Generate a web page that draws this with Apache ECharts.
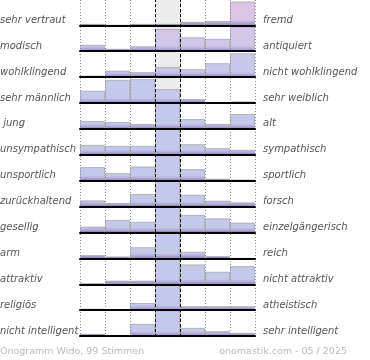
<!DOCTYPE html>
<html><head><meta charset="utf-8">
<script src="https://cdn.jsdelivr.net/npm/echarts@6/dist/echarts.min.js"></script>
<style>html,body{margin:0;padding:0;background:#fff}#c{width:370px;height:360px}</style>
</head><body><div id="c"></div>
<script>
// ---- data ----
const leftLabels = ['sehr vertraut','modisch','wohlklingend','sehr männlich',' jung','unsympathisch','unsportlich','zurückhaltend','gesellig','arm','attraktiv','religiös','nicht intelligent'];
const rightLabels = ['fremd','antiquiert','nicht wohlklingend','sehr weiblich','alt','sympathisch','sportlich','forsch','einzelgängerisch','reich','nicht attraktiv','atheistisch','sehr intelligent'];
const steps = ['1','2','3','4','5','6','7'];
const row1  = [1.5, 0, 1.5, 1.5, 3.5, 4.5, 24.5];
const row2  = [6.5, 2.5, 5, 22.5, 14, 12.5, 25];
const row3  = [1.5, 6.5, 5, 10, 8, 14, 24];
const row4  = [12.3, 23.3, 24, 14, 4, 0.5, 1.6];
const row5  = [8, 7, 5, 26, 10, 5, 15];
const row6  = [10, 9, 9, 26, 10.7, 6.7, 5];
const row7  = [13.7, 7.7, 14.3, 26, 11.7, 2, 1];
const row8  = [6.3, 3.7, 12.7, 26, 12, 6, 4.3];
const row9  = [6, 12.7, 10.7, 26, 17.7, 14.3, 10];
const row10 = [3.3, 2, 11.3, 26, 6.7, 2.3, 0];
const row11 = [1, 3.7, 3.7, 26, 20, 12.7, 18.3];
const row12 = [1.7, 1, 7.3, 26, 4, 4, 4];
const row13 = [2.3, 0.5, 12.3, 26, 8.3, 5, 3.3];
const rows = [row1,row2,row3,row4,row5,row6,row7,row8,row9,row10,row11,row12,row13];
const footerLeft = 'Onogramm Wido, 99 Stimmen';
const footerRight = 'onomastik.com - 05 / 2025';

// ---- layout ----
const ROW = 25.9, BASE0 = 25.3, LEFT = 80, WIDTH = 175, YMAX = 26;
function hex(c){return [parseInt(c.slice(1,3),16),parseInt(c.slice(3,5),16),parseInt(c.slice(5,7),16)];}
function mix(a,b,t){const A=hex(a),B=hex(b);return 'rgb('+A.map((v,i)=>Math.round(v+(B[i]-v)*t)).join(',')+')';}
function colorAt(y){const t=Math.max(0,Math.min(1,y/75));return mix('#dfc4e6','#c4c9ea',t);}

const grids=[], xAxes=[], yAxes=[], series=[], graphics=[];
rows.forEach((vals,i)=>{
  const base = BASE0 + ROW*i, top = base - ROW;
  grids.push({left:LEFT, width:WIDTH, top:top, height:ROW});
  xAxes.push({type:'category', gridIndex:i, data:steps, z:4,
    axisLine:{show:true, lineStyle:{color:'#000', width:2}},
    axisTick:{show:false}, axisLabel:{show:false}, splitLine:{show:false}});
  yAxes.push({type:'value', gridIndex:i, min:0, max:YMAX, show:false, splitLine:{show:false}});
  series.push({type:'bar', xAxisIndex:i, yAxisIndex:i, data:vals, barCategoryGap:'0%', silent:true, z:2,
    itemStyle:{
      color:{type:'linear', global:true, x:0, y:top, x2:0, y2:base, colorStops:[
        {offset:0, color:colorAt(top)},
        {offset:0.8, color:colorAt(base-5)},
        {offset:0.9, color:'#b3acda'},
        {offset:1, color:'#9080bd'}]},
      borderColor:'rgba(125,125,125,0.45)', borderWidth:1}});
  graphics.push({type:'text', x:0, y:base-5, silent:true,
    style:{text:leftLabels[i], font:'italic 10px "DejaVu Sans"', fill:'#555', verticalAlign:'middle', align:'left'}});
  graphics.push({type:'text', x:263, y:base-5, silent:true,
    style:{text:rightLabels[i], font:'italic 10px "DejaVu Sans"', fill:'#555', verticalAlign:'middle', align:'left'}});
});
graphics.push({type:'text', x:0, y:352, silent:true,
  style:{text:footerLeft, font:'9.5px "DejaVu Sans"', fill:'#bbb', verticalAlign:'middle', align:'left'}});
graphics.push({type:'text', x:347, y:352, silent:true,
  style:{text:footerRight, font:'9.5px "DejaVu Sans"', fill:'#bbb', verticalAlign:'middle', align:'right'}});

// background grid for column lines and middle shading
const bg = rows.length;
grids.push({left:LEFT, width:WIDTH, top:0, height:BASE0 + ROW*(rows.length-1) + 1});
xAxes.push({type:'value', gridIndex:bg, min:0, max:7, interval:1, z:0,
  axisLine:{show:false}, axisTick:{show:false}, axisLabel:{show:false},
  splitLine:{show:true, showMinLine:true, showMaxLine:true, lineStyle:{color:'#8a8a8a', width:1, type:[1,2]}}});
yAxes.push({type:'value', gridIndex:bg, min:0, max:1, show:false, splitLine:{show:false}});
series.push({type:'scatter', xAxisIndex:bg, yAxisIndex:bg, data:[[0,-5]], symbolSize:0, silent:true,
  markArea:{silent:true, itemStyle:{color:'#ececec'}, data:[[{xAxis:3},{xAxis:4}]]},
  markLine:{silent:true, symbol:'none', label:{show:false}, z:6,
    lineStyle:{color:'#000', width:1, type:[3,2]}, data:[{xAxis:3},{xAxis:4}]}});

const chart = echarts.init(document.getElementById('c'), null, {renderer:'canvas'});
chart.setOption({animation:false, grid:grids, xAxis:xAxes, yAxis:yAxes, series:series, graphic:graphics});
</script></body></html>
